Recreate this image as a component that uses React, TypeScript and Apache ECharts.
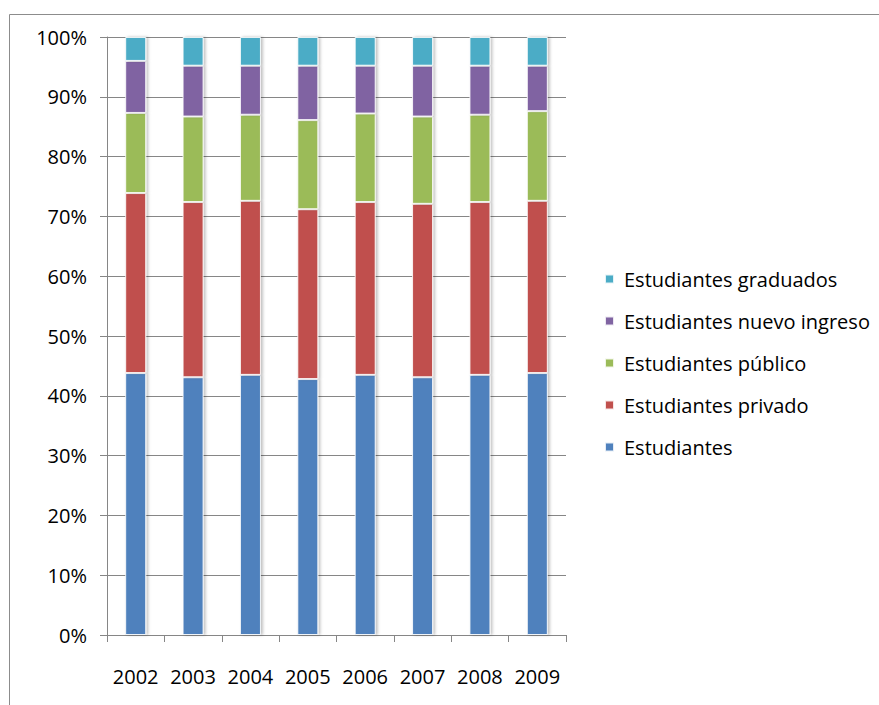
import React, { useEffect, useRef } from "react";
import * as echarts from "echarts";

const years = ["2002", "2003", "2004", "2005", "2006", "2007", "2008", "2009"];
const estudiantes = [43.8, 43.1, 43.5, 42.8, 43.5, 43.1, 43.5, 43.8];
const privado = [30.1, 29.3, 29.1, 28.4, 28.9, 29.0, 28.9, 28.8];
const publico = [13.4, 14.3, 14.4, 14.9, 14.8, 14.6, 14.6, 15.0];
const nuevoIngreso = [8.7, 8.5, 8.2, 9.1, 8.0, 8.5, 8.2, 7.6];
const graduados = [4.0, 4.8, 4.8, 4.8, 4.8, 4.8, 4.8, 4.8];

const seriesDefs = [
  { name: "Estudiantes", data: estudiantes, color: "#4F81BD" },
  { name: "Estudiantes privado", data: privado, color: "#C0504D" },
  { name: "Estudiantes público", data: publico, color: "#9BBB59" },
  { name: "Estudiantes nuevo ingreso", data: nuevoIngreso, color: "#8064A2" },
  { name: "Estudiantes graduados", data: graduados, color: "#4BACC6" },
];

const FONT = "'Open Sans', sans-serif";

export default function App() {
  const ref = useRef<HTMLDivElement>(null);
  useEffect(() => {
    if (!ref.current) return;
    const chart = echarts.init(ref.current, undefined, { renderer: "svg" });
    chart.setOption({
      animation: false,
      backgroundColor: "#ffffff",
      textStyle: { fontFamily: FONT },
      graphic: [
        {
          type: "rect",
          left: 7,
          top: 12,
          shape: { width: 1000, height: 1000 },
          style: { fill: "none", stroke: "#8c8c8c", lineWidth: 1 },
          silent: true,
          z: -1,
        },
      ],
      grid: { left: 107, top: 37, width: 459, height: 598, containLabel: false },
      legend: {
        orient: "vertical",
        left: 599,
        top: 264,
        itemWidth: 9,
        itemHeight: 9,
        itemGap: 22,
        icon: "rect",
        data: [
          "Estudiantes graduados",
          "Estudiantes nuevo ingreso",
          "Estudiantes público",
          "Estudiantes privado",
          "Estudiantes",
        ],
        textStyle: {
          fontFamily: FONT,
          fontSize: 20,
          lineHeight: 20,
          color: "#000",
          padding: [0, 0, 0, 5],
        },
      },
      xAxis: {
        type: "category",
        data: years,
        axisLine: { show: true, lineStyle: { color: "#868686" } },
        axisTick: { show: true, length: 7, interval: 0, lineStyle: { color: "#868686" } },
        axisLabel: {
          color: "#000",
          fontSize: 20,
          fontFamily: FONT,
          margin: 31,
          interval: 0,
          hideOverlap: false,
        },
      },
      yAxis: {
        type: "value",
        min: 0,
        max: 100,
        interval: 10,
        axisLine: { show: true, lineStyle: { color: "#868686" } },
        axisTick: { show: true, length: 7, lineStyle: { color: "#868686" } },
        splitLine: { show: true, lineStyle: { color: "#868686" } },
        axisLabel: { color: "#000", fontSize: 20, fontFamily: FONT, margin: 20, formatter: "{value}%" },
      },
      series: seriesDefs.map((s) => ({
        name: s.name,
        type: "bar",
        stack: "total",
        barWidth: 21,
        data: s.data,
        itemStyle: {
          color: s.color,
          borderColor: "rgba(255,255,255,0.85)",
          borderWidth: 1,
          shadowColor: "rgba(0,0,0,0.25)",
          shadowBlur: 3,
          shadowOffsetX: 2,
        },
      })),
    });
    return () => chart.dispose();
  }, []);
  return (
    <div
      ref={ref}
      style={{ position: "absolute", left: 0, top: 0, width: 879, height: 705 }}
    />
  );
}
